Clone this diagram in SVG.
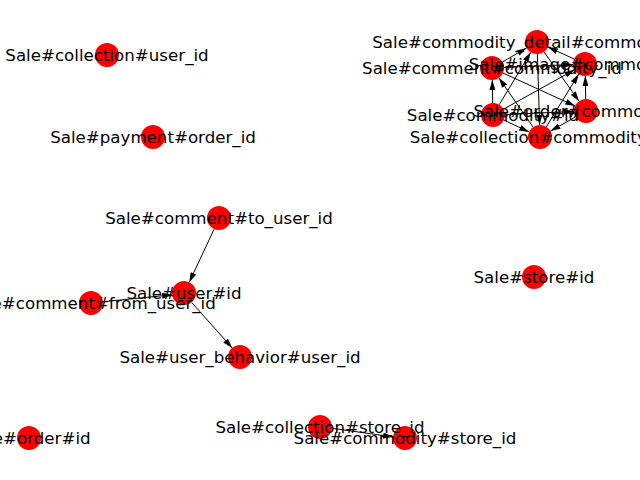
<svg xmlns="http://www.w3.org/2000/svg" width="640" height="480" viewBox="0 0 640 480">
<style>
.e{stroke:#000;stroke-width:1;fill:none;marker-end:url(#ah)}
.n{fill:#ff0000}
.t{font-family:"DejaVu Sans","Liberation Sans",sans-serif;font-size:16.67px;fill:#000;text-anchor:middle}
</style>
<defs>
<marker id="ah" markerUnits="userSpaceOnUse" viewBox="0 0 10 6" markerWidth="10" markerHeight="6" refX="10" refY="3" orient="auto">
<path d="M0,0 L10,3 L0,6 z" fill="#000"/>
</marker>
</defs>
<rect width="640" height="480" fill="#fff"/>
<g id="connectors">
<line class="e" x1="574.1" y1="59" x2="547.9" y2="47"/>
<line class="e" x1="502.4" y1="62" x2="526.6" y2="48"/>
<line class="e" x1="543.9" y1="51.8" x2="579.1" y2="101.2"/>
<line class="e" x1="499.2" y1="104.7" x2="530.8" y2="52.3"/>
<line class="e" x1="537.4" y1="54" x2="539.6" y2="125"/>
<line class="e" x1="504" y1="67.5" x2="573" y2="64.5"/>
<line class="e" x1="585.7" y1="99" x2="585.3" y2="76"/>
<line class="e" x1="503.5" y1="109.2" x2="574.5" y2="69.8"/>
<line class="e" x1="546.3" y1="126.8" x2="578.7" y2="74.2"/>
<line class="e" x1="502.9" y1="73" x2="575.1" y2="106"/>
<line class="e" x1="492.7" y1="103" x2="492.3" y2="80"/>
<line class="e" x1="533.1" y1="127.1" x2="498.9" y2="77.9"/>
<line class="e" x1="505" y1="114.5" x2="574" y2="111.5"/>
<line class="e" x1="575.5" y1="116.9" x2="550.5" y2="131.1"/>
<line class="e" x1="503.9" y1="120.1" x2="529.1" y2="131.9"/>
<line class="e" x1="214.1" y1="229.2" x2="189.2" y2="282.4"/>
<line class="e" x1="102.6" y1="301.8" x2="172.1" y2="294.8"/>
<line class="e" x1="191.8" y1="302.6" x2="232.2" y2="347.9"/>
<line class="e" x1="331.9" y1="428.3" x2="393.1" y2="436.9"/>
</g>
<g id="nodes">
<g id="n-collection-user_id"><circle class="n" cx="107" cy="55" r="12"/></g>
<g id="n-payment-order_id"><circle class="n" cx="153" cy="137" r="12"/></g>
<g id="n-comment-to_user_id"><circle class="n" cx="219" cy="218" r="12"/></g>
<g id="n-user-id"><circle class="n" cx="184" cy="293" r="12"/></g>
<g id="n-comment-from_user_id"><circle class="n" cx="91" cy="303" r="12"/></g>
<g id="n-user_behavior-user_id"><circle class="n" cx="240" cy="357" r="12"/></g>
<g id="n-store-id"><circle class="n" cx="534" cy="277" r="12"/></g>
<g id="n-order-id"><circle class="n" cx="29" cy="438" r="12"/></g>
<g id="n-collection-store_id"><circle class="n" cx="320" cy="427" r="12"/></g>
<g id="n-commodity-store_id"><circle class="n" cx="405" cy="438" r="12"/></g>
<g id="n-commodity_detail-commodity_id"><circle class="n" cx="537" cy="42" r="12"/></g>
<g id="n-image-commodity_id"><circle class="n" cx="585" cy="64" r="12"/></g>
<g id="n-comment-commodity_id"><circle class="n" cx="492" cy="68" r="12"/></g>
<g id="n-order-commodity_id"><circle class="n" cx="586" cy="111" r="12"/></g>
<g id="n-commodity-id"><circle class="n" cx="493" cy="115" r="12"/></g>
<g id="n-collection-commodity_id"><circle class="n" cx="540" cy="137" r="12"/></g>
</g>
<g id="labels">
<text class="t" x="107" y="61">Sale#collection#user_id</text>
<text class="t" x="153" y="143">Sale#payment#order_id</text>
<text class="t" x="219" y="224">Sale#comment#to_user_id</text>
<text class="t" x="184" y="299">Sale#user#id</text>
<text class="t" x="91" y="309">Sale#comment#from_user_id</text>
<text class="t" x="240" y="363">Sale#user_behavior#user_id</text>
<text class="t" x="534" y="283">Sale#store#id</text>
<text class="t" x="29" y="444">Sale#order#id</text>
<text class="t" x="320" y="433">Sale#collection#store_id</text>
<text class="t" x="405" y="444">Sale#commodity#store_id</text>
<text class="t" x="537" y="48">Sale#commodity_detail#commodity_id</text>
<text class="t" x="585" y="70">Sale#image#commodity_id</text>
<text class="t" x="492" y="74">Sale#comment#commodity_id</text>
<text class="t" x="586" y="117">Sale#order#commodity_id</text>
<text class="t" x="493" y="121">Sale#commodity#id</text>
<text class="t" x="540" y="143">Sale#collection#commodity_id</text>
</g>
</svg>
